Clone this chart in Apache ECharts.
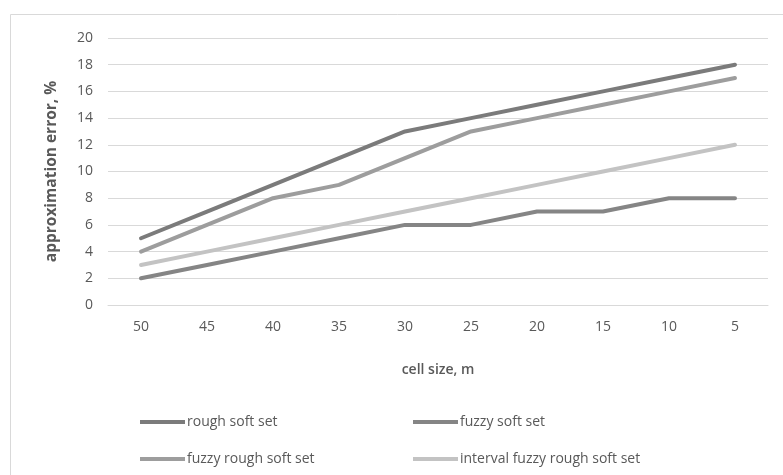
<!DOCTYPE html>
<html><head><meta charset="utf-8">
<script src="https://cdn.jsdelivr.net/npm/echarts@6/dist/echarts.min.js"></script>
<style>html,body{margin:0;padding:0;background:#fff}#c{width:783px;height:475px}</style>
</head><body><div id="c"></div>
<script>
const categories = ['50','45','40','35','30','25','20','15','10','5'];
const roughSoftSet = [5,7,9,11,13,14,15,16,17,18];
const fuzzySoftSet = [2,3,4,5,6,6,7,7,8,8];
const fuzzyRoughSoftSet = [4,6,8,9,11,13,14,15,16,17];
const intervalFuzzyRoughSoftSet = [3,4,5,6,7,8,9,10,11,12];
const seriesNames = ['rough soft set','fuzzy soft set','fuzzy rough soft set','interval fuzzy rough soft set'];
const colors = ['#7b7b7b','#858585','#9d9d9d','#c3c3c3'];
const dataSets = [roughSoftSet, fuzzySoftSet, fuzzyRoughSoftSet, intervalFuzzyRoughSoftSet];

const font = '"Open Sans", sans-serif';
const chart = echarts.init(document.getElementById('c'));
const legendPos = [[135,410],[408,410],[135,447],[408,447]];
chart.setOption({
  animation:false,
  textStyle:{fontFamily:font},
  graphic:[{type:'rect',shape:{x:10.5,y:14.5,width:800,height:500},style:{fill:'none',stroke:'#d9d9d9',lineWidth:1},silent:true}],
  grid:{left:108,right:15,top:38,bottom:170},
  legend: seriesNames.map((n,i)=>({
    data:[n], left:legendPos[i][0], top:legendPos[i][1], icon:'rect', itemWidth:45, itemHeight:4, itemGap:3,
    textStyle:{fontFamily:font,fontSize:14,color:'#595959',padding:[0,0,0,-3]}
  })),
  xAxis:{type:'category',data:categories,boundaryGap:true,
    axisLine:{show:true,lineStyle:{color:'#d9d9d9'}},axisTick:{show:false},
    axisLabel:{color:'#595959',fontSize:14,margin:15,fontFamily:font},
    name:'cell size, m',nameLocation:'middle',nameGap:58,
    nameTextStyle:{color:'#595959',fontSize:14,fontWeight:600,fontFamily:font}},
  yAxis:{type:'value',min:0,max:20,interval:2,
    axisLine:{show:false},axisTick:{show:false},
    splitLine:{lineStyle:{color:'#d9d9d9',width:1}},
    axisLabel:{color:'#595959',fontSize:14,margin:15,fontFamily:font},
    name:'approximation error, %',nameLocation:'middle',nameGap:48,
    nameTextStyle:{color:'#595959',fontSize:15.5,fontWeight:'bold',fontFamily:font}},
  series: dataSets.map((d,i)=>({
    name:seriesNames[i],type:'line',data:d,showSymbol:false,symbol:'none',
    lineStyle:{color:colors[i],width:4,cap:'round',join:'round'},itemStyle:{color:colors[i]},z:10-i
  }))
});
</script></body></html>
